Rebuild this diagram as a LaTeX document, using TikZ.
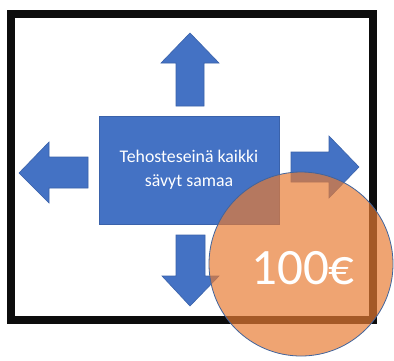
\documentclass[tikz,border=0pt]{standalone}
\usepackage{fontspec}
\setmainfont{Carlito}
\definecolor{offblue}{HTML}{4472C4}
\definecolor{offblueline}{HTML}{3A62AA}
\definecolor{offorange}{HTML}{E97C33}
\definecolor{circline}{HTML}{41649C}
\begin{document}
\begin{tikzpicture}[x=1pt,y=-1pt,
  arrowshape/.style={fill=offblue,draw=offblueline,line width=0.6pt,line join=miter},
  mainbox/.style={fill=offblue,draw=offblueline,line width=0.6pt,minimum width=180pt,minimum height=108pt,inner sep=0pt,text=white,align=center,font=\fontsize{17.8}{24}\selectfont},
  badge/.style={circle,fill=offorange,fill opacity=0.69,draw=circline,draw opacity=1,line width=0.8pt,minimum size=184pt,inner sep=0pt},
  pricetext/.style={text=white,font=\fontsize{51}{57}\selectfont,inner sep=0pt}]
\useasboundingbox (0,0) rectangle (394,360);
\fill[white] (0,0) rectangle (394,360);
% frame
\draw[line width=7.5pt,black!95] (11,14) rectangle (373,320);
% arrows
\draw[arrowshape] (190,33) -- (219,63) -- (204,63) -- (204,106) -- (176,106) -- (176,63) -- (161,63) -- cycle;
\draw[arrowshape] (19,173) -- (49,142) -- (49,157) -- (88,157) -- (88,188) -- (49,188) -- (49,203) -- cycle;
\draw[arrowshape] (359,167) -- (329,136) -- (329,152) -- (291,152) -- (291,182) -- (329,182) -- (329,198) -- cycle;
\draw[arrowshape] (190,306) -- (219,276) -- (205,276) -- (205,235) -- (176,235) -- (176,276) -- (162,276) -- cycle;
% main box
\node[mainbox] (box) at (189,170) {Tehosteseinä kaikki\\sävyt samaa};
% badge
\node[badge] (price) at (301,264) {};
\node[pricetext] (pricelabel) at (303,268) {100€};
\end{tikzpicture}
\end{document}
